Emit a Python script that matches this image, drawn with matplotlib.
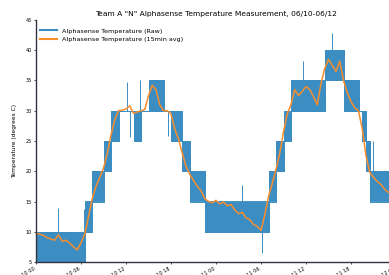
import matplotlib
matplotlib.use("Agg")
import matplotlib.pyplot as plt
import matplotlib.dates as mdates
import pandas as pd
import numpy as np

# ---- data ----
start = "2017-06-10 00:00"
step_minutes = 30

temp_avg = [9.8, 9.6, 9.4, 9.0, 8.8, 8.6, 9.5, 8.4, 8.6, 8.1, 7.5, 7.0, 8.2,
            9.6, 12.5, 15.5, 17.5, 19.0, 20.5, 23.0, 26.0, 28.5,
            30.0, 30.1,
            30.3, 30.8, 29.6, 29.8, 30.0, 30.2,
            32.5, 34.2, 33.5, 31.0, 30.0, 30.0,
            29.5, 27.0, 25.3, 23.0, 20.8, 19.5, 18.5, 17.5, 16.8, 15.5,
            15.0, 14.8, 15.2, 14.6, 14.9, 14.3, 14.5, 13.6, 13.0, 13.2, 12.3, 12.0, 11.2, 10.9, 10.2,
            12.8, 15.8, 18.0, 20.3, 23.0, 26.5, 29.5, 31.0, 33.5, 32.5,
            33.2,
            34.0, 33.5, 32.3, 31.0, 34.5, 37.0, 38.5, 37.5, 36.5, 38.2, 35.0, 33.0, 31.5, 30.5,
            30.0, 27.0, 22.5, 19.8, 19.0, 18.3, 17.8, 17.0, 16.5]

raw_low = [5]*13 + [10]*2 + [15]*3 + [20]*2 + [25]*2 + [30]*2 + [30]*2 + [25]*2 + [30]*2 \
    + [30]*4 + [30]*2 + [25]*3 + [20]*2 + [15]*4 + [10]*17 + [15]*2 + [20]*2 + [25]*2 \
    + [30]*8 + [30] + [35]*5 + [30]*4 + [30] + [25] + [20] + [15]*6
raw_high = [10]*13 + [15]*2 + [20]*3 + [25]*2 + [30]*2 + [30]*2 + [30]*2 + [30]*2 + [30]*2 \
    + [35]*4 + [30]*2 + [30]*3 + [25]*2 + [20]*4 + [15]*17 + [20]*2 + [25]*2 + [30]*2 \
    + [35]*8 + [35] + [40]*5 + [35]*4 + [30] + [30] + [25] + [20]*6

spike_hours = [2.93, 6.4, 12.13, 13.87, 12.53, 17.6, 27.47, 30.13, 35.6, 39.47, 44.93]
spike_base = [10, 10, 30, 30, 30, 30, 15, 10, 35, 40, 20]
spike_value = [14.0, 13.7, 34.8, 35.0, 25.7, 25.8, 17.8, 6.5, 38.2, 42.8, 25.0]

title = 'Team A "N" Alphasense Temperature Measurement, 06/10-06/12'
ylabel = "Temperature (degrees C)"
legend_labels = ["Alphasense Temperature (Raw)", "Alphasense Temperature (15min avg)"]

# ---- plot ----
times = pd.date_range(start, periods=len(temp_avg), freq=f"{step_minutes}min")
t0 = pd.Timestamp(start)
spike_times = [t0 + pd.Timedelta(hours=h) for h in spike_hours]

blue = "#3b8dc2"
orange = "#f88d2c"

fig = plt.figure(figsize=(3.89, 2.75), dpi=100)
ax = fig.add_axes([36/389, 13/275, 360/389, 242/275])

ax.fill_between(times, raw_low, raw_high, step="post", color=blue, lw=0.6, edgecolor=blue)
ax.step(times, raw_low, where="post", color=blue, lw=0.7)
ax.step(times, raw_high, where="post", color=blue, lw=0.7)
ax.vlines(spike_times, spike_base, spike_value, color=blue, lw=0.7)
ax.plot(times, temp_avg, color=orange, lw=1.1)

ax.plot([], [], color=blue, lw=1.5, label=legend_labels[0])
ax.plot([], [], color=orange, lw=1.5, label=legend_labels[1])
handles, labels = ax.get_legend_handles_labels()
ax.legend(handles[-2:], labels[-2:], loc="upper left", frameon=False, fontsize=4.6,
          handlelength=2.6, borderaxespad=0.3, bbox_to_anchor=(0.0, 0.985))

ax.set_ylim(5, 45)
ax.set_yticks(range(5, 46, 5))
ax.set_xlim(t0, t0 + pd.Timedelta(hours=48))
ax.xaxis.set_major_locator(mdates.HourLocator(byhour=[0, 6, 12, 18]))
ax.xaxis.set_major_formatter(mdates.DateFormatter("%m-%d %H"))
plt.setp(ax.get_xticklabels(), rotation=30, ha="right")
ax.tick_params(labelsize=3.6, length=1.5, width=0.5, pad=1.5)

ax.set_title(title, fontsize=5.4, pad=3)
ax.set_ylabel(ylabel, fontsize=4.2, labelpad=6)

for s in ["top", "right"]:
    ax.spines[s].set_visible(False)
for s in ["left", "bottom"]:
    ax.spines[s].set_color("#333344")
    ax.spines[s].set_linewidth(1.0)

fig.savefig("out.png", dpi=100)
